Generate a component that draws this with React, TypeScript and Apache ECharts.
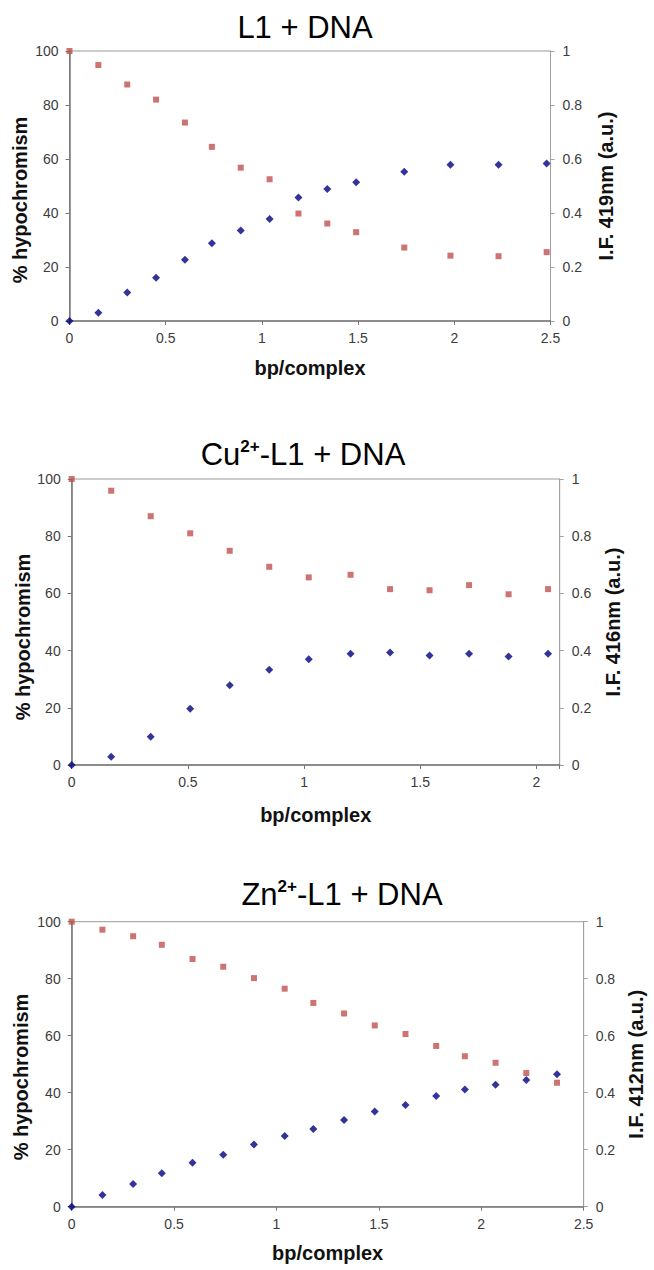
import React, { useEffect, useRef } from "react";
import * as echarts from "echarts";

// ---- L1 + DNA ----
const l1X = [0, 0.15, 0.3, 0.45, 0.6, 0.74, 0.89, 1.04, 1.19, 1.34, 1.49, 1.74, 1.98, 2.23, 2.48];
const l1Hypo = [0, 3.1, 10.6, 16.0, 22.7, 28.8, 33.5, 37.8, 45.7, 48.9, 51.4, 55.3, 57.9, 57.9, 58.3];
const l1Fluor = [1.0, 0.948, 0.876, 0.82, 0.735, 0.645, 0.568, 0.525, 0.398, 0.361, 0.329, 0.272, 0.242, 0.24, 0.255];

// ---- Cu2+-L1 + DNA ----
const cuX = [0, 0.17, 0.34, 0.51, 0.68, 0.85, 1.02, 1.2, 1.37, 1.54, 1.71, 1.88, 2.05];
const cuHypo = [0, 2.9, 9.9, 19.7, 27.9, 33.3, 37.0, 38.9, 39.3, 38.3, 38.9, 37.9, 38.9];
const cuFluor = [1.0, 0.959, 0.87, 0.81, 0.749, 0.693, 0.656, 0.665, 0.615, 0.611, 0.629, 0.597, 0.615];

// ---- Zn2+-L1 + DNA ----
const znX = [0, 0.15, 0.3, 0.44, 0.59, 0.74, 0.89, 1.04, 1.18, 1.33, 1.48, 1.63, 1.78, 1.92, 2.07, 2.22, 2.37];
const znHypo = [0, 4.1, 8.0, 11.7, 15.4, 18.2, 21.8, 24.8, 27.3, 30.4, 33.4, 35.7, 38.8, 41.1, 42.8, 44.5, 46.5];
const znFluor = [1.0, 0.972, 0.949, 0.919, 0.869, 0.842, 0.802, 0.765, 0.715, 0.678, 0.636, 0.606, 0.564, 0.528, 0.505, 0.469, 0.435];

// axis settings per panel
const xMax = [2.5, 2.1, 2.5];
const rightNames = ["I.F. 419nm (a.u.)", "I.F. 416nm (a.u.)", "I.F. 412nm (a.u.)"];
const xName = "bp/complex";
const leftName = "% hypochromism";

const FONT = "'Liberation Sans', Arial, Helvetica, sans-serif";
const RED = "#c0504d";
const NAVY = "#000080";

const grids = [
  { left: 69.5, top: 51, width: 481, height: 270 },
  { left: 71.7, top: 479, width: 488, height: 286 },
  { left: 71.7, top: 921.7, width: 514, height: 285 },
];
const titleY = [27, 454, 894];
const titleX = [305, 303, 342];
const xNameGap = [37, 40, 36];
const rightNameGap = [45, 43, 42];
const leftNameX = [20, 23, 21];
const leftNameY = [200, 637, 1077];

const pair = (xs: number[], ys: number[]) => xs.map((x, i) => [x, ys[i]]);

export default function App() {
  const ref = useRef<HTMLDivElement>(null);

  useEffect(() => {
    if (!ref.current) return;
    const chart = echarts.init(ref.current, null, { renderer: "svg" });

    const tickLabel = { fontFamily: FONT, fontSize: 14, color: "#3c3c3c" };
    const nameStyle = { fontFamily: FONT, fontSize: 20, fontWeight: "bold" as const, color: "#111" };

    const xAxis = grids.map((_, i) => ({
      type: "value",
      gridIndex: i,
      min: 0,
      max: xMax[i],
      interval: 0.5,
      name: xName,
      nameLocation: "middle",
      nameGap: xNameGap[i],
      nameTextStyle: nameStyle,
      splitLine: { show: false },
      axisLine: { show: true, lineStyle: { color: "#777", width: 1.5 } },
      axisTick: { show: true, length: 4, lineStyle: { color: "#777" } },
      axisLabel: {
        ...tickLabel,
        margin: 10,
        showMaxLabel: true,
        formatter: (v: number) => (Math.abs(v * 2 - Math.round(v * 2)) < 1e-6 ? String(v) : ""),
      },
    }));

    const yAxis: any[] = [];
    grids.forEach((_, i) => {
      yAxis.push({
        type: "value",
        gridIndex: i,
        position: "left",
        min: 0,
        max: 100,
        interval: 20,
        splitLine: { show: false },
        axisLine: { show: true, lineStyle: { color: "#777", width: 1.5 } },
        axisTick: { show: true, length: 4, lineStyle: { color: "#777" } },
        axisLabel: { ...tickLabel, margin: 11 },
      });
      yAxis.push({
        type: "value",
        gridIndex: i,
        position: "right",
        min: 0,
        max: 1,
        interval: 0.2,
        name: rightNames[i],
        nameLocation: "middle",
        nameGap: rightNameGap[i],
        nameTextStyle: nameStyle,
        splitLine: { show: false },
        axisLine: { show: true, lineStyle: { color: "#a0a0a0", width: 1 } },
        axisTick: { show: true, length: 4, lineStyle: { color: "#a0a0a0" } },
        axisLabel: { ...tickLabel, margin: 12 },
      });
    });

    const panels = [
      { x: l1X, hypo: l1Hypo, fluor: l1Fluor },
      { x: cuX, hypo: cuHypo, fluor: cuFluor },
      { x: znX, hypo: znHypo, fluor: znFluor },
    ];

    const series: any[] = [];
    panels.forEach((p, i) => {
      series.push({
        type: "scatter",
        name: "hypochromism",
        xAxisIndex: i,
        yAxisIndex: i * 2,
        data: pair(p.x, p.hypo),
        symbol: "diamond",
        symbolSize: 8,
        itemStyle: { color: NAVY },
      });
      series.push({
        type: "scatter",
        name: "I.F.",
        xAxisIndex: i,
        yAxisIndex: i * 2 + 1,
        data: pair(p.x, p.fluor),
        symbol: "rect",
        symbolSize: 6,
        itemStyle: { color: RED },
      });
    });

    const titleTexts = ["{m|L1 + DNA}", "{m|Cu}{s|2+}{m|-L1 + DNA}", "{m|Zn}{s|2+}{m|-L1 + DNA}"];
    const rich = {
      m: { fontFamily: FONT, fontSize: 31, lineHeight: 32, fill: "#000", verticalAlign: "middle" },
      s: { fontFamily: FONT, fontSize: 17, fontWeight: "bold", lineHeight: 24, fill: "#000", verticalAlign: "top" },
    };

    const graphic: any[] = titleTexts.map((t, i) => ({
      type: "text",
      x: titleX[i],
      y: titleY[i],
      style: {
        text: t,
        rich,
        fill: "#000",
        align: "center",
        verticalAlign: "middle",
        fontFamily: FONT,
        fontSize: 31,
      },
    }));

    // left axis titles, read bottom-to-top
    grids.forEach((_, i) => {
      graphic.push({
        type: "text",
        x: leftNameX[i],
        y: leftNameY[i],
        rotation: Math.PI / 2,
        style: {
          text: leftName,
          fill: "#111",
          align: "center",
          verticalAlign: "middle",
          fontFamily: FONT,
          fontSize: 20,
          fontWeight: "bold",
        },
      });
    });

    chart.setOption({
      animation: false,
      backgroundColor: "#fff",
      grid: grids.map((g) => ({
        ...g,
        show: true,
        borderColor: "#999",
        borderWidth: 1,
        backgroundColor: "transparent",
      })),
      xAxis,
      yAxis,
      series,
      graphic,
    });

    return () => chart.dispose();
  }, []);

  return (
    <div
      ref={ref}
      style={{ position: "absolute", left: 0, top: 0, width: 654, height: 1270, background: "#fff" }}
    />
  );
}
